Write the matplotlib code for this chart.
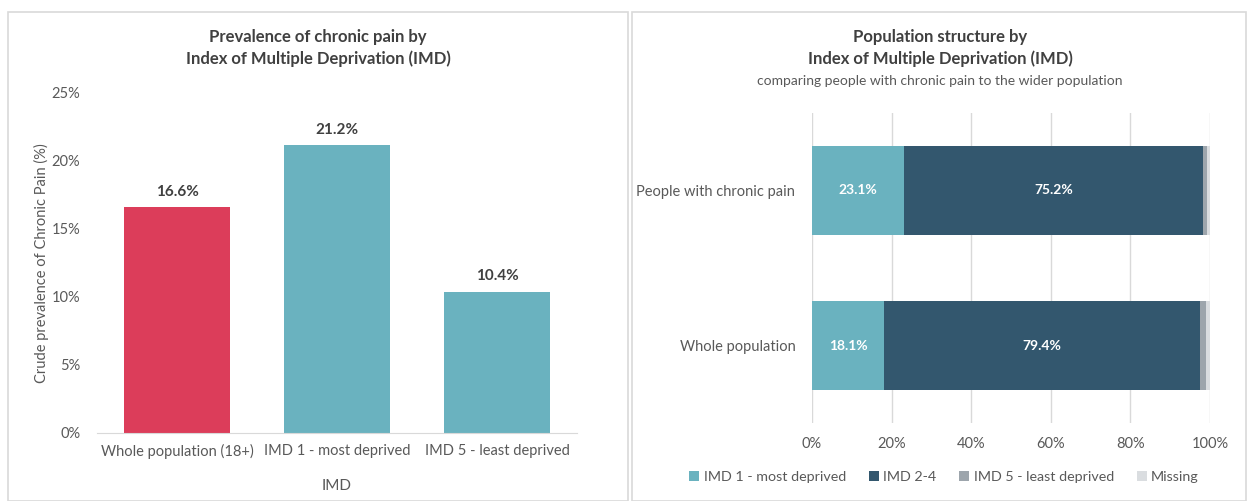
"""Chronic pain prevalence by IMD: bar chart + population structure."""

import matplotlib

matplotlib.use("Agg")
import matplotlib.pyplot as plt
from matplotlib.patches import Rectangle
import numpy as np

plt.rcParams["font.family"] = ["Lato", "DejaVu Sans"]

# left panel data
prev_groups = ["Whole population (18+)", "IMD 1 - most deprived", "IMD 5 - least deprived"]
prev_values = [16.6, 21.2, 10.4]

# right panel data
struct_rows = ["Whole population", "People with chronic pain"]
struct_series = ["IMD 1 - most deprived", "IMD 2-4", "IMD 5 - least deprived", "Missing"]
imd1 = [18.1, 23.1]
imd2_4 = [79.4, 75.2]
imd5 = [1.6, 0.9]
missing = [0.9, 0.8]

RED = "#DC3D5A"
TEAL = "#6AB2BF"
DARK = "#33576E"
GREY = "#9DA5AC"
LIGHT = "#DADDE0"
TXT = "#595959"

fig = plt.figure(figsize=(12.47, 5.01), dpi=100)

# panel frames
W, H = 1247, 501
for x0, x1 in [(8, 628), (632, 1246)]:
    fig.patches.append(
        Rectangle((x0 / W, 0), (x1 - x0) / W, (H - 12) / H, transform=fig.transFigure,
                  fill=False, edgecolor="#D9D9D9", lw=1.2)
    )

# ---- left: prevalence bars
ax1 = fig.add_axes([97 / W, 68 / H, 480 / W, 340 / H])
x = np.arange(len(prev_values))
bars = ax1.bar(x, prev_values, width=0.66, color=[RED, TEAL, TEAL])
for b, v in zip(bars, prev_values):
    ax1.text(b.get_x() + b.get_width() / 2, v + 0.6, f"{v:.1f}%", ha="center", va="bottom",
             fontsize=11, fontweight="bold", color="#404040")
ax1.set_xlim(-0.5, 2.5)
ax1.set_ylim(0, 25)
ax1.set_yticks(range(0, 26, 5))
ax1.set_yticklabels([f"{t}%" for t in range(0, 26, 5)])
ax1.set_xticks(x)
ax1.set_xticklabels(prev_groups)
ax1.tick_params(length=0, labelsize=10.5, colors=TXT)
ax1.tick_params(axis="y", pad=12)
ax1.tick_params(axis="x", pad=8)
for s in ["top", "right", "left"]:
    ax1.spines[s].set_visible(False)
ax1.spines["bottom"].set_color("#D9D9D9")
ax1.set_ylabel("Crude prevalence of Chronic Pain (%)", fontsize=10.5, color=TXT, labelpad=2)
ax1.set_xlabel("IMD", fontsize=11, color=TXT, labelpad=14)
fig.text(318 / W, 1 - 48 / H, "Prevalence of chronic pain by\nIndex of Multiple Deprivation (IMD)",
         ha="center", va="center", fontsize=12, fontweight="bold", color="#404040", linespacing=1.45)

# ---- right: stacked horizontal bars
ax2 = fig.add_axes([812 / W, 78 / H, 398 / W, 310 / H])
y = np.arange(len(struct_rows))
left = np.zeros(len(struct_rows))
for vals, col, name in zip([imd1, imd2_4, imd5, missing], [TEAL, DARK, GREY, LIGHT], struct_series):
    ax2.barh(y, vals, left=left, height=0.57, color=col, label=name, zorder=3)
    if name in ("IMD 1 - most deprived", "IMD 2-4"):
        for yi, l, v in zip(y, left, vals):
            ax2.text(l + v / 2, yi, f"{v:.1f}%", ha="center", va="center", fontsize=10,
                     fontweight="bold", color="white", zorder=4)
    left = left + np.array(vals)
ax2.set_xlim(0, 100)
ax2.set_ylim(-0.5, 1.5)
ax2.set_xticks(range(0, 101, 20))
ax2.set_xticklabels([f"{t}%" for t in range(0, 101, 20)])
ax2.set_yticks(y)
ax2.set_yticklabels(struct_rows)
ax2.grid(axis="x", color="#D9D9D9", lw=1, zorder=0)
ax2.tick_params(length=0, labelsize=10.5, colors=TXT)
ax2.tick_params(axis="y", pad=12)
ax2.tick_params(axis="x", pad=10)
for s in ax2.spines.values():
    s.set_visible(False)
ax2.legend(loc="center", bbox_to_anchor=(944 / W, 1 - 477 / H), bbox_transform=fig.transFigure,
           ncol=4, frameon=False, fontsize=10.3, labelcolor=TXT, handlelength=0.7,
           handleheight=0.7, handletextpad=0.3, columnspacing=1.6)
fig.text(940 / W, 1 - 48 / H, "Population structure by\nIndex of Multiple Deprivation (IMD)",
         ha="center", va="center", fontsize=12, fontweight="bold", color="#404040", linespacing=1.45)
fig.text(940 / W, 1 - 81 / H, "comparing people with chronic pain to the wider population",
         ha="center", va="center", fontsize=10, color=TXT)

fig.savefig("out.png", dpi=100)
